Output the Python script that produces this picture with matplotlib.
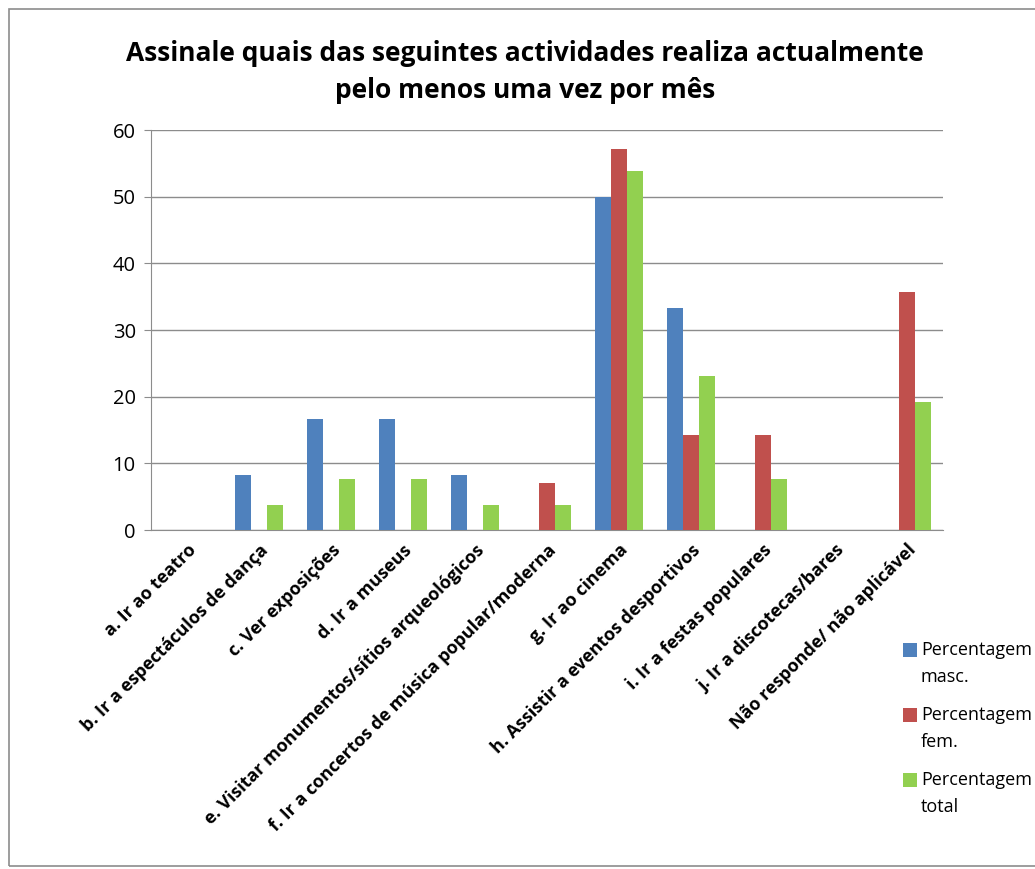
import matplotlib
matplotlib.use("Agg")
import matplotlib.pyplot as plt
import numpy as np
from matplotlib.patches import Rectangle

categories = [
    "a. Ir ao teatro",
    "b. Ir a espectáculos de dança",
    "c. Ver exposições",
    "d. Ir a museus",
    "e. Visitar monumentos/sítios arqueológicos",
    "f. Ir a concertos de música popular/moderna",
    "g. Ir ao cinema",
    "h. Assistir a eventos desportivos",
    "i. Ir a festas populares",
    "j. Ir a discotecas/bares",
    "Não responde/ não aplicável",
]
masc = [0, 8.3, 16.7, 16.7, 8.3, 0, 50.0, 33.3, 0, 0, 0]
fem = [0, 0, 0, 0, 0, 7.1, 57.1, 14.3, 14.3, 0, 35.7]
total = [0, 3.8, 7.7, 7.7, 3.8, 3.8, 53.8, 23.1, 7.7, 0, 19.2]
series_labels = ["Percentagem\nmasc.", "Percentagem\nfem.", "Percentagem\ntotal"]
colors = ["#4F81BD", "#C0504D", "#92D050"]
title = "Assinale quais das seguintes actividades realiza actualmente\npelo menos uma vez por mês"
yticks = [0, 10, 20, 30, 40, 50, 60]

plt.rcParams['font.family'] = ['Open Sans', 'DejaVu Sans']

W, H = 1035, 869
fig = plt.figure(figsize=(W / 100, H / 100), dpi=100)
ax = fig.add_axes([151 / W, 1 - 530 / H, (943 - 151) / W, (530 - 130) / H])

x = np.arange(len(categories))
w = 0.22
for i, (vals, lab, col) in enumerate(zip([masc, fem, total], series_labels, colors)):
    ax.bar(x + (i - 1) * w, vals, width=w, color=col, label=lab, zorder=3)

ax.set_xlim(-0.5, len(categories) - 0.5)
ax.set_ylim(0, 60)
ax.set_yticks(yticks)
ax.set_yticklabels([str(t) for t in yticks], fontsize=14.5)
ax.yaxis.grid(True, color="#8C8C8C", linewidth=1.0, zorder=0)
ax.set_axisbelow(True)
for s in ["top", "right"]:
    ax.spines[s].set_visible(False)
ax.spines["left"].set_color("#8C8C8C")
ax.spines["bottom"].set_color("#8C8C8C")
ax.tick_params(axis="y", length=5, color="#8C8C8C", pad=6)
ax.set_xticks(x)
ax.set_xticklabels(categories, rotation=45, ha="right", va="top",
                   rotation_mode="anchor", fontsize=13, fontweight="bold")
ax.tick_params(axis="x", length=0, pad=8)

fig.text(0.507, 0.917, title, ha="center", va="center", fontsize=19,
         fontweight="bold", linespacing=1.45)

# Legend (manual, to match first-line aligned markers)
for k, (lab, col) in enumerate(zip(series_labels, colors)):
    yc = 650 + 65 * k
    fig.patches.append(Rectangle((903 / W, 1 - (yc + 7) / H), 14 / W, 14 / H,
                                 transform=fig.transFigure, facecolor=col,
                                 edgecolor="none"))
    for j, line in enumerate(lab.split("\n")):
        fig.text(921 / W, 1 - (yc + 27 * j) / H, line, ha="left", va="center",
                 fontsize=13)

fig.patches.append(Rectangle((9 / W, 1 - 866 / H), 1.5, 857 / H, transform=fig.transFigure,
                             fill=False, edgecolor="#8C8C8C", linewidth=1.2))

fig.savefig("out.png", dpi=100)
